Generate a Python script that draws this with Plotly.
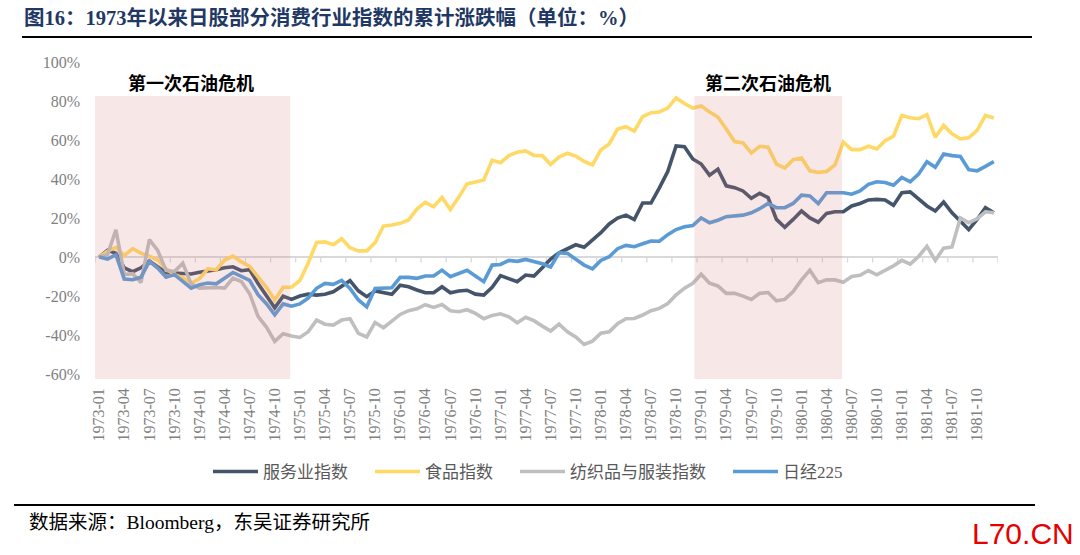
import plotly.graph_objects as go

# ---------------- data ----------------
months = [f"{y}-{m:02d}" for y in range(1973, 1982) for m in range(1, 13)]
tick_labels = months[::3]

services = [
    0, 3.5, 2, -5.5, -7.5, -5.5, -2, -5, -8, -8.2, -8.5, -8.7,
    -7.8, -7.2, -6.5, -5.5, -5, -7, -6.5, -13.5, -19.5, -26, -20, -21.7,
    -20, -19, -19.5, -19.1, -17.8, -15.2, -12.1, -17.3, -20.3, -17.4, -18.3, -19.1,
    -14.4, -15.2, -16.9, -18.3, -18.3, -15.2, -18.3, -17.4, -17, -19, -19.5, -15.5,
    -9.5, -10.9, -12.6, -9.2, -9.7, -5.5, -1, 2.2, 4.3, 6.3, 5, 8.5,
    12.5, 17, 20, 21.5, 19.2, 27.7, 27.7, 35.5, 43.8, 57, 56.6, 50.3,
    47.7, 42, 45.1, 36.5, 35.6, 33.9, 30.1, 32.7, 30.5, 19.3, 15.3, 19.3,
    23.6, 20.1, 17.9, 22.4, 23.2, 23.2, 26.2, 27.5, 29.3, 29.6, 29.3, 26.5,
    33, 33.4, 29.6, 26.2, 23.6, 28.2, 22.7, 18.4, 14.1, 19.3, 25.3, 22.7,
]
food = [
    0, 3, 5, 0.8, 4.3, 2, 0.5, -1.5, -6, -9, -10.5, -13.5,
    -11, -6, -6.5, -1.5, 0.5, -2.5, -4.8, -10, -15.5, -22, -15.5, -15.5,
    -12, -3, 7.5, 7.8, 6.3, 9.4, 4.8, 3.2, 3.2, 7.4, 15.9, 16.4,
    17.3, 19, 24.6, 28, 25.8, 30.6, 24.4, 30.6, 37.5, 38.5, 39.5, 49.7,
    48.4, 52, 53.8, 54.4, 52.1, 52, 47.5, 51.3, 53.2, 51.8, 49.1, 47.2,
    54.9, 58, 65.6, 66.8, 64.6, 72, 74, 74.4, 76.4, 81.6, 78.7, 76.4,
    77.5, 74.4, 71.8, 65.7, 59.2, 58.5, 53.4, 56.8, 56.3, 47.7, 45.6, 49.9,
    50.8, 44.2, 43.4, 43.9, 47.2, 58.9, 55.1, 55.1, 56.8, 55.4, 59.7, 62,
    72.6, 71.4, 70.9, 73, 61.4, 67.5, 63.2, 60.6, 61.1, 64.9, 72.6, 71.3,
]
textile = [
    0, 1.2, 14, -9, -8.5, -13, 8.9, 3.4, -6.8, -7.4, -3.1, -13.7,
    -15.9, -15.6, -15.6, -15.9, -10.8, -12.5, -18.8, -30.4, -35.9, -43.2, -39.3, -40.5,
    -41.2, -38.3, -32.3, -34.4, -34.9, -32.3, -31.6, -39.1, -40.9, -33.5, -36.2, -32.8,
    -29.4, -27.5, -26.5, -24.4, -25.8, -24.3, -27.5, -28, -27, -28.9, -31.6, -29.9,
    -29.1, -30.6, -33.7, -30.9, -32.6, -35.4, -37.9, -34.4, -38.3, -40.9, -44.8, -43.1,
    -39, -38.3, -34.2, -31.6, -31.5, -29.7, -27.5, -26.3, -23.8, -19.4, -16, -13.4,
    -8.8, -13.4, -14.8, -18.6, -18.6, -20, -21.7, -18.6, -18.2, -22.4, -21.7, -17.7,
    -11.7, -6.7, -13.1, -11.7, -11.7, -12.9, -10, -9.3, -6.9, -9.1, -6.9, -4.5,
    -1.7, -3.6, 0.3, 5.5, -1.7, 4.6, 5.2, 20.1, 17.6, 19.6, 23.2, 22.7,
]
nikkei = [
    0, -1, 1.2, -11.3, -11.6, -10.3, -2.2, -5.6, -10.3, -9, -12.5, -15.9,
    -14.2, -13.3, -13.7, -10.8, -7.9, -9.9, -12, -19.3, -23.9, -29.6, -24, -25.2,
    -24, -21, -16, -13.5, -14, -12, -16.1, -22, -25.5, -16.1, -16.1, -15.7,
    -10.4, -10.4, -10.9, -9.7, -9.7, -6.7, -10.1, -8.5, -6.8, -9.7, -12.6, -4.1,
    -3.8, -1.7, -2.2, -1.2, -2.2, -3.4, -5.1, 2.2, 1.9, -1.2, -4.1, -6,
    -1.7, 0.2, 4.3, 6, 5.3, 6.8, 8.2, 8.1, 11.5, 14.1, 15.5, 16.2,
    20.1, 17.6, 18.9, 20.7, 21.3, 21.5, 22.7, 24.8, 27.5, 25.3, 25.3, 27.5,
    31.7, 31.3, 27.4, 33, 33, 33, 32.2, 33.9, 37.3, 38.6, 38.2, 36.8,
    40.8, 38.6, 42.5, 48.9, 46, 52.8, 52, 51.6, 44.8, 44.2, 46.5, 48.9,
]

series_names = ["服务业指数", "食品指数", "纺织品与服装指数", "日经225"]
series_values = [services, food, textile, nikkei]

crisis_names = ["第一次石油危机", "第二次石油危机"]
crisis_periods = [("1973-01", "1974-12"), ("1979-01", "1980-06")]

y_ticks = [-60, -40, -20, 0, 20, 40, 60, 80, 100]

title_text = "图16：1973年以来日股部分消费行业指数的累计涨跌幅（单位：%）"
source_text = "数据来源：Bloomberg，东吴证券研究所"
watermark_text = "L70.CN"

# ---------------- style ----------------
colors = ["#44546a", "#ffd966", "#bfbfbf", "#5b9bd5"]
SERIF = "Liberation Serif, Noto Sans CJK SC, serif"
CJK = "Noto Sans CJK SC, sans-serif"
W, H = 1080, 555
L, R, T, B = 95, 82, 62, 176
plot_w, plot_h = W - L - R, H - T - B
LEGEND_PAD = "\u00a0" * 4


def px_x(p):
    return (p - L) / plot_w


def px_y(p):
    return (H - B - p) / plot_h


fig = go.Figure()
for k, (name, vals, col) in enumerate(zip(series_names, series_values, colors)):
    pad = LEGEND_PAD if k < len(series_names) - 1 else ""
    fig.add_trace(go.Scatter(
        x=months, y=vals, mode="lines", name=name + pad,
        line=dict(color=col, width=3.6), hoverinfo="x+y+name",
    ))

shapes = []
annotations = []

# crisis shading (drawn over the lines, translucent)
for name, (s, e) in zip(crisis_names, crisis_periods):
    x0 = months.index(s) - 0.8
    x1 = months.index(e) - 0.15
    shapes.append(dict(type="rect", xref="x", yref="y", x0=x0, x1=x1,
                       y0=-62.5, y1=82.6, line=dict(width=0),
                       fillcolor="rgba(215,120,120,0.18)", layer="above"))
    annotations.append(dict(xref="x", yref="y", x=(x0 + x1) / 2, y=89.5,
                            text=name, showarrow=False,
                            font=dict(family=CJK, size=18, color="#000000", weight="bold"),
                            xanchor="center", yanchor="middle"))

# small tick marks on the zero line at category boundaries
for k in range(0, len(months) + 1, 3):
    shapes.append(dict(type="line", xref="x", yref="y", x0=k - 0.5, x1=k - 0.5,
                       y0=0, y1=-2.8, line=dict(color="#d9d9d9", width=1.3),
                       layer="below"))

# title and rules
annotations.append(dict(xref="paper", yref="paper", x=px_x(22), y=px_y(18),
                        text=title_text, showarrow=False, xanchor="left", yanchor="middle",
                        font=dict(family=SERIF, size=20.5, color="#1f3864", weight="bold")))
shapes.append(dict(type="line", xref="paper", yref="paper", x0=px_x(22), x1=px_x(1032),
                   y0=px_y(37), y1=px_y(37), line=dict(color="#000000", width=2)))
shapes.append(dict(type="line", xref="paper", yref="paper", x0=px_x(14), x1=px_x(1035),
                   y0=px_y(505), y1=px_y(505), line=dict(color="#000000", width=2)))
annotations.append(dict(xref="paper", yref="paper", x=px_x(27), y=px_y(522),
                        text=source_text, showarrow=False, xanchor="left", yanchor="middle",
                        font=dict(family=SERIF, size=19.5, color="#000000")))
annotations.append(dict(xref="paper", yref="paper", x=px_x(1076), y=px_y(533),
                        text=watermark_text, showarrow=False, xanchor="right", yanchor="middle",
                        font=dict(family="Liberation Sans Narrow, Liberation Sans, Arial", size=30,
                                  color="#e60000")))

fig.update_layout(
    width=W, height=H, autosize=False,
    margin=dict(l=L, r=R, t=T, b=B, pad=0),
    paper_bgcolor="white", plot_bgcolor="white",
    shapes=shapes, annotations=annotations,
    showlegend=True,
    legend=dict(orientation="h", x=px_x(528), xanchor="center",
                y=px_y(472), yanchor="middle",
                font=dict(family=SERIF, size=17, color="#595959"),
                itemwidth=45, bgcolor="rgba(0,0,0,0)", traceorder="normal"),
    xaxis=dict(type="category", range=[-0.5, len(months) - 0.5],
               tickmode="array", tickvals=tick_labels, ticktext=tick_labels,
               tickangle=-90, showgrid=False, showline=False, zeroline=False,
               ticks="", tickfont=dict(family=SERIF, size=16, color="#808080"),
               ticklabelstandoff=5, fixedrange=True),
    yaxis=dict(range=[-62.5, 100], tickvals=y_ticks,
               ticktext=[f"{v}%" for v in y_ticks],
               showgrid=False, showline=False, ticks="",
               zeroline=True, zerolinecolor="#d9d9d9", zerolinewidth=1.5,
               tickfont=dict(family=SERIF, size=16, color="#808080"),
               ticklabelstandoff=14, fixedrange=True),
)

fig.write_html("out.html", include_plotlyjs=True, full_html=True,
               config={"displayModeBar": False},
               post_script="document.body.style.margin='0';document.body.style.overflow='hidden';")
